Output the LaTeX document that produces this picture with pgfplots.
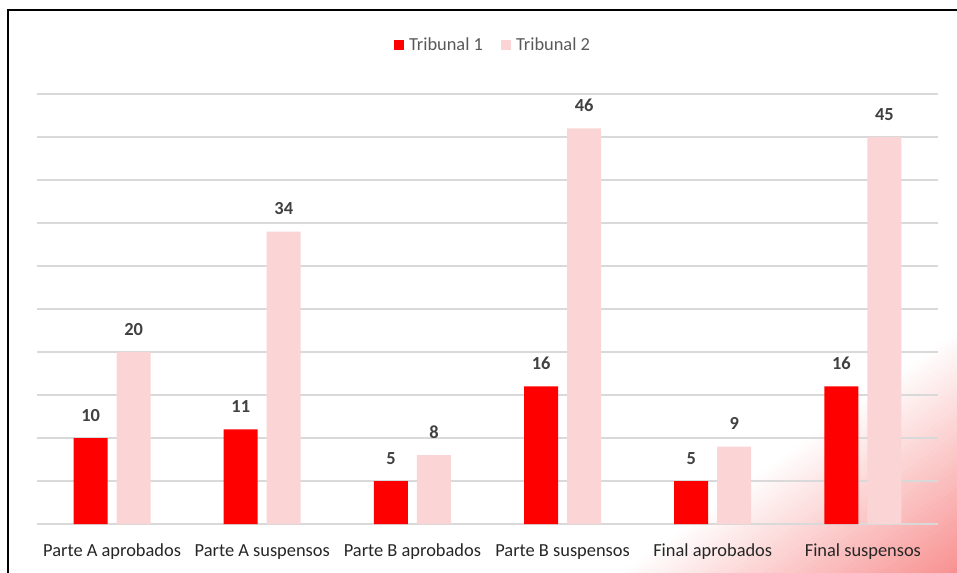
\documentclass[border=0pt]{standalone}
\usepackage{fontspec}
\setmainfont{Carlito}
\usepackage{pgfplots}
\pgfplotsset{compat=1.18}
\definecolor{tone1}{RGB}{255,0,0}
\definecolor{tone2}{RGB}{251,213,213}
\definecolor{gridc}{RGB}{217,217,217}
\definecolor{glow}{RGB}{248,145,145}
\definecolor{lab}{RGB}{64,64,64}
\definecolor{leg}{RGB}{89,89,89}
\begin{document}
\begin{tikzpicture}
\path[use as bounding box] (0,0) rectangle (717.75pt,429pt);
\begin{scope}[x=0.75pt,y=0.75pt]
\clip (0,0) rectangle (957,572);
\foreach \k in {0,...,39}{
  \pgfmathsetmacro{\da}{197*\k/40}
  \pgfmathsetmacro{\db}{197*(\k+1)/40+0.8}
  \pgfmathsetmacro{\ff}{(\k+0.5)/40*100}
  \colorlet{gc}{glow!\ff!white}
  \pgfmathsetmacro{\pAx}{620+\da*0.583-700*0.812}
  \pgfmathsetmacro{\pAy}{-\da*0.812-700*0.583}
  \pgfmathsetmacro{\pBx}{620+\da*0.583+700*0.812}
  \pgfmathsetmacro{\pBy}{-\da*0.812+700*0.583}
  \pgfmathsetmacro{\pCx}{620+\db*0.583+700*0.812}
  \pgfmathsetmacro{\pCy}{-\db*0.812+700*0.583}
  \pgfmathsetmacro{\pDx}{620+\db*0.583-700*0.812}
  \pgfmathsetmacro{\pDy}{-\db*0.812-700*0.583}
  \fill[gc] (\pAx,\pAy) -- (\pBx,\pBy) -- (\pCx,\pCy) -- (\pDx,\pDy) -- cycle;
}
\draw[line width=1.5pt] (7.8,-10) -- (7.8,561.7) -- (970,561.7);
\end{scope}
\begin{axis}[
  at={(27.75pt,36pt)}, anchor=south west, scale only axis,
  width=675.75pt, height=322.5pt,
  xmin=-0.5, xmax=5.5, ymin=0, ymax=50,
  ybar=6.75pt, bar width=25.5pt,
  xtick={0,...,5},
  xticklabels={Parte A aprobados, Parte A suspensos, Parte B aprobados, Parte B suspensos, Final aprobados, Final suspensos},
  ytick={0,5,...,50}, yticklabels={},
  major tick length=0pt,
  ymajorgrids, major grid style={gridc, line width=1pt},
  axis line style={draw=none},
  xticklabel style={anchor=base, yshift=-24pt, font=\fontsize{13.8}{16}\selectfont, text=black!85},
  nodes near coords,
  every node near coord/.append style={anchor=base, yshift=12.75pt, font=\fontsize{13.8}{16}\selectfont\bfseries, text=lab},
  /pgf/number format/assume math mode=true,
  legend style={at={(0.5,1)}, anchor=center, xshift=3.4pt, yshift=36.75pt, draw=none, fill=none, legend columns=2, font=\fontsize{13.8}{16}\selectfont, text=leg, nodes={inner sep=0pt},
    /tikz/every odd column/.append style={column sep=3.75pt},
    /tikz/every even column/.append style={column sep=13.5pt}},
  legend image code/.code={\path[#1, draw=none] (0pt,-3.75pt) rectangle (7.5pt,3.75pt);},
]
\addplot[fill=tone1, draw=none] coordinates {(0,10) (1,11) (2,5) (3,16) (4,5) (5,16)};
\addplot[fill=tone2, draw=none] coordinates {(0,20) (1,34) (2,8) (3,46) (4,9) (5,45)};
\legend{Tribunal 1, Tribunal 2}
\end{axis}
\end{tikzpicture}
\end{document}
